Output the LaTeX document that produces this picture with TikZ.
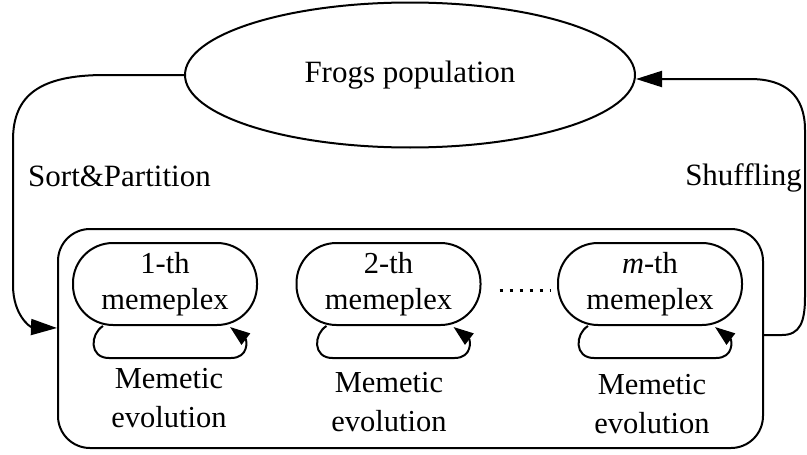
\documentclass[tikz,border=0pt]{standalone}
\usepackage{fontspec}
\setmainfont{Liberation Serif}
\usetikzlibrary{arrows.meta,shapes.geometric,calc}

\tikzset{
  stroke/.style={line width=2pt},
  bigtip/.style={-{Triangle[length=26pt,width=16pt]}},
  smalltip/.style={-{Triangle[length=20pt,width=14pt]}},
  popnode/.style={stroke, draw, ellipse, minimum width=450, minimum height=145,
    inner sep=0pt, font=\fontsize{31}{36}\selectfont},
  groupbox/.style={stroke, draw, rounded corners=32pt, minimum width=705,
    minimum height=219, inner sep=0pt},
  memebox/.style={stroke, draw, rounded corners=40pt, minimum width=184,
    minimum height=82, inner sep=0pt, align=center,
    font=\fontsize{30.5}{36}\selectfont},
  labeltext/.style={inner sep=0pt, font=\fontsize{31}{36}\selectfont},
  evotext/.style={inner sep=0pt, align=center, font=\fontsize{30.5}{39}\selectfont},
}

\begin{document}
\begin{tikzpicture}[x=1pt, y=-1pt]
\useasboundingbox (0,0) rectangle (807,455);

% population and the group of memeplexes
\node[popnode] (pop) at (410,75) {Frogs population};
\node[groupbox] (outer) at (410.5,338.5) {};

\node[memebox] (b1) at (165,284) {1-th\\memeplex};
\node[memebox] (b2) at (388.5,284) {2-th\\memeplex};
\node[memebox] (b3) at (650,284) {\textit{m}-th\\memeplex};

\node[evotext] (e1) at (169,398) {Memetic\\evolution};
\node[evotext] (e2) at (389,402) {Memetic\\evolution};
\node[evotext] (e3) at (652,404) {Memetic\\evolution};

\node[labeltext, anchor=base west] (sp) at (28,186) {Sort\&Partition};
\node[labeltext, anchor=base east] (sh) at (802,185) {Shuffling};

% partition into memeplexes
\draw[stroke, bigtip] (pop.west) -- (105,75)
  .. controls (40,75) and (13,95) .. (13,140) -- (13,285)
  .. controls (13,315) and (30,327) .. ([yshift=10.5pt]outer.west);

% shuffling back into the population
\draw[stroke, bigtip] ([yshift=3.5pt]outer.east) -- (782,335)
  .. controls (800,335) and (805,322) .. (805,297) -- (805,130)
  .. controls (805,95) and (785,79) .. (750,79) -- ([yshift=-4pt]pop.east);

% local evolution loop under each memeplex
\foreach \b in {b1,b2,b3} {
  \draw[stroke, smalltip] ($(\b.south)+(-62,0)$)
    .. controls ($(\b.south)+(-75,8)$) and ($(\b.south)+(-76,32)$) .. ($(\b.south)+(-56,32)$)
    -- ($(\b.south)+(66,32)$)
    .. controls ($(\b.south)+(84,32)$) and ($(\b.south)+(82,14)$) .. ($(\b.south)+(65,1)$);
}

% ellipsis between memeplexes
\draw[line width=3pt, dash pattern=on 3pt off 7pt]
  ([shift={(18,6)}]b2.east) -- ([shift={(-7,6)}]b3.west);
\end{tikzpicture}
\end{document}
